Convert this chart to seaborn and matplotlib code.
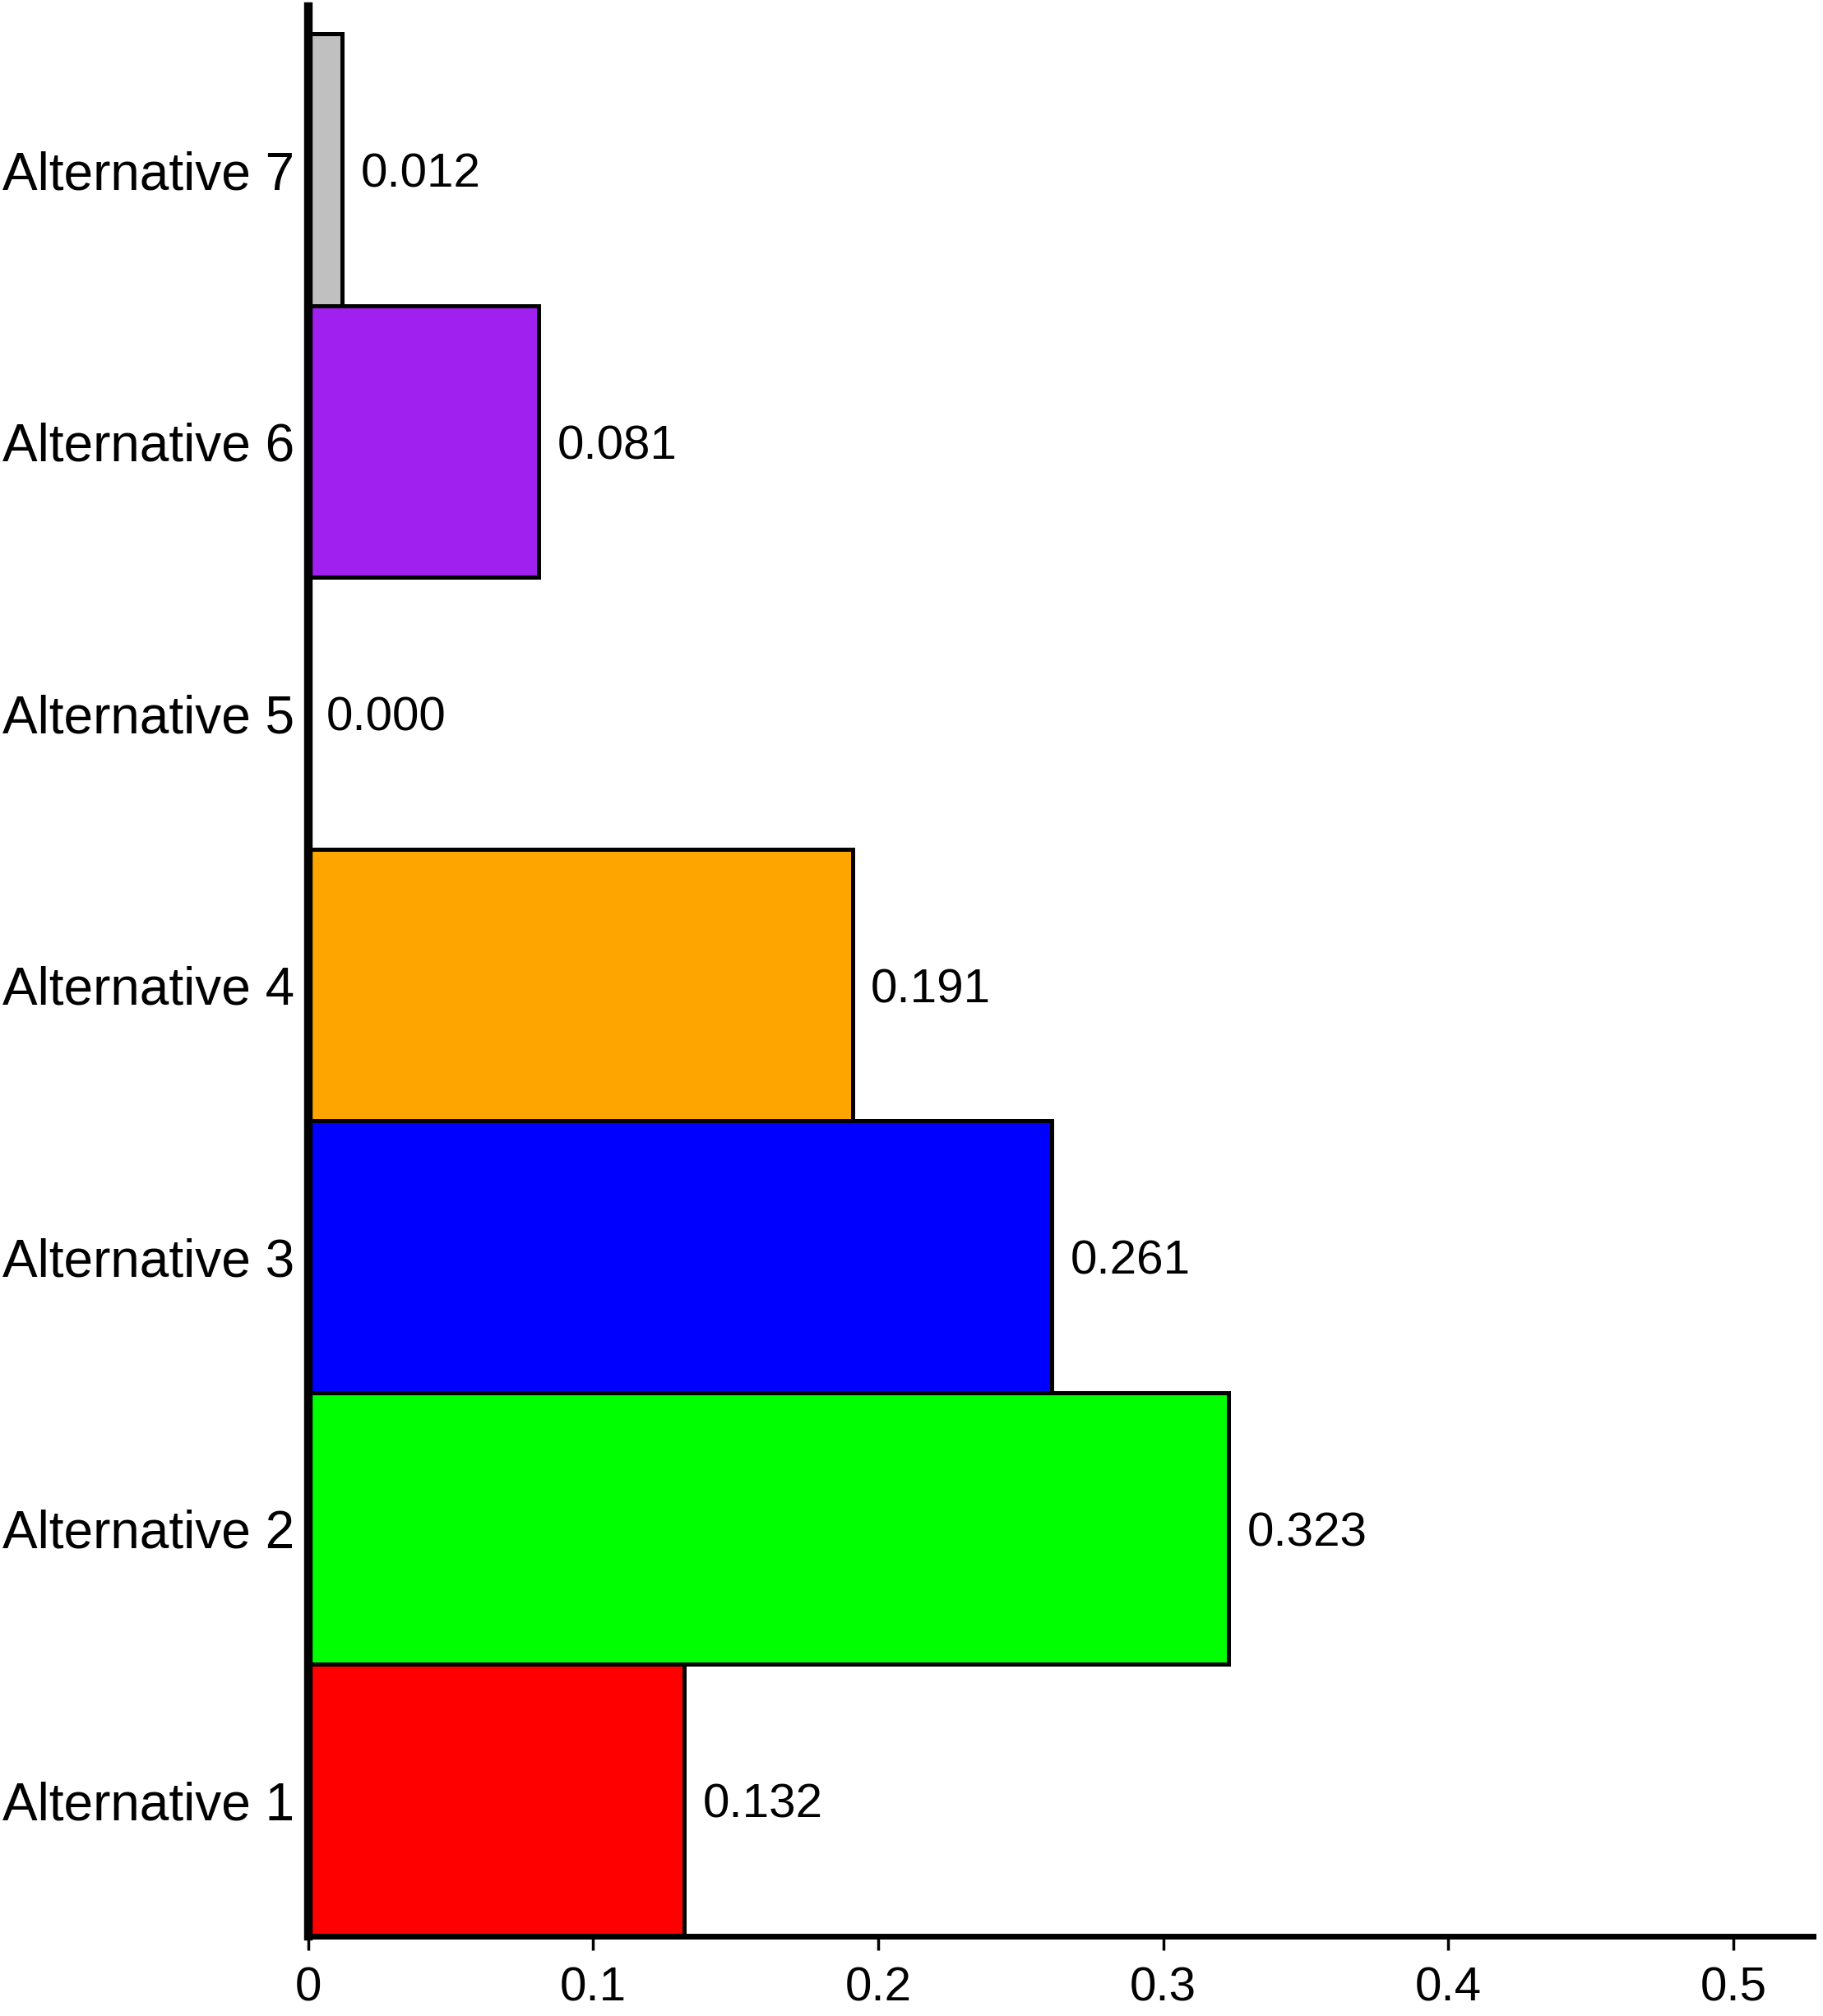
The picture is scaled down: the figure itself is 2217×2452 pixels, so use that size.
import numpy as np
import matplotlib
matplotlib.use("Agg")
import matplotlib.pyplot as plt
import pandas as pd
import seaborn as sns

# data
alternatives = ["Alternative 1", "Alternative 2", "Alternative 3", "Alternative 4",
                "Alternative 5", "Alternative 6", "Alternative 7"]
scores = [0.132, 0.323, 0.261, 0.191, 0.000, 0.081, 0.012]
bar_colors = ["#FF0000", "#00FF00", "#0000FF", "#FFA500",
              "#000000", "#A020F0", "#C0C0C0"]
x_ticks = [0, 0.1, 0.2, 0.3, 0.4, 0.5]

sns.set_style("white")
plt.rcParams["font.family"] = ["Liberation Sans", "DejaVu Sans"]
plt.rcParams["text.color"] = "black"
plt.rcParams["xtick.color"] = "black"
plt.rcParams["ytick.color"] = "black"
plt.rcParams["xtick.labelcolor"] = "black"
plt.rcParams["ytick.labelcolor"] = "black"

df = pd.DataFrame({"alt": alternatives, "score": scores})
order = alternatives[::-1]  # Alternative 7 on top
palette = dict(zip(alternatives, bar_colors))

fig = plt.figure(figsize=(22.17, 24.52), dpi=100)
ax = fig.add_axes([0.169, 0.0396, 0.8256, 0.957])

sns.barplot(data=df, x="score", y="alt", hue="alt", order=order, hue_order=order,
            palette=palette, orient="h", width=1.0, edgecolor="black",
            linewidth=3.6, saturation=1, legend=False, ax=ax)

ax.set_xlim(0, 0.528)
ax.set_ylim(6.5, -0.6)
ax.set_xlabel("")
ax.set_ylabel("")

# spines: only left and bottom, heavy
for s in ["top", "right"]:
    ax.spines[s].set_visible(False)
ax.spines["left"].set_linewidth(7.5)
ax.spines["bottom"].set_linewidth(5)
ax.spines["left"].set_color("black")
ax.spines["bottom"].set_color("black")

ax.set_xticks(x_ticks)
ax.set_xticklabels([f"{t:g}" for t in x_ticks], fontsize=42, color="black")
ax.tick_params(axis="x", direction="out", length=12, width=2.5, pad=14, bottom=True,
               colors="black")
ax.tick_params(axis="y", length=0, pad=12, labelsize=46, labelcolor="black")

# value labels next to the bars
for i, name in enumerate(order):
    v = df.loc[df["alt"] == name, "score"].values[0]
    ax.annotate(f"{v:.3f}", xy=(v, i), xytext=(16, 0), textcoords="offset points",
                va="center_baseline", ha="left", fontsize=42, color="black")

plt.savefig("out.png", dpi=100)
